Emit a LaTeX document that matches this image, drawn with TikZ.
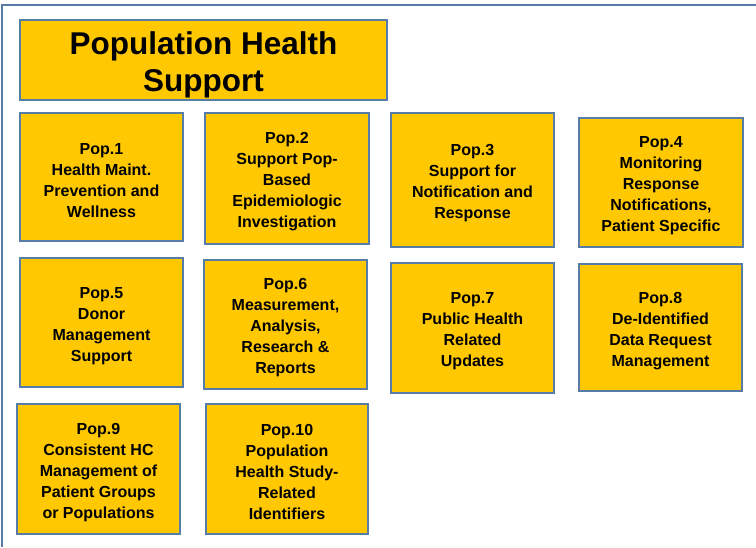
\documentclass[tikz,border=0pt]{standalone}
\usepackage{fontspec}
\setmainfont{Liberation Sans}
\usepackage{xcolor}
\definecolor{popgold}{RGB}{255,200,0}
\definecolor{popblue}{RGB}{88,124,168}
% strut on the first line, moves the text a little lower in its box
\newcommand{\popstrut}{\rule{0pt}{17.5pt}}
\newcommand{\titlestrut}{\rule{0pt}{33pt}}

\begin{document}
\begin{tikzpicture}[x=1pt,y=-1pt,
    popbox/.style={draw=popblue,line width=1.8pt,fill=popgold,inner sep=0pt,align=center,
        font=\fontsize{16}{21}\selectfont\bfseries},
    titlebox/.style={popbox,font=\fontsize{31.5}{37}\selectfont\bfseries}]
\useasboundingbox (0,0) rectangle (756,547);
\fill[white] (0,0) rectangle (756,547);
% outer frame, only top and left edges are in view
\draw[popblue,line width=2.5pt] (2,547) -- (2,5) -- (756,5);

\node[titlebox,minimum width=367pt,minimum height=80pt] (title) at (203.5,60) {\titlestrut Population Health\\Support};

% first row
\node[popbox,minimum width=163pt,minimum height=128pt] (pop1) at (101.5,177) {\popstrut Pop.1\\Health Maint.\\Prevention and\\Wellness};
\node[popbox,minimum width=164pt,minimum height=131pt] (pop2) at (287,178.5) {\popstrut Pop.2\\Support Pop-\\Based\\Epidemiologic\\Investigation};
\node[popbox,minimum width=163pt,minimum height=134pt] (pop3) at (472.5,180) {\popstrut Pop.3\\Support for\\Notification and\\Response};
\node[popbox,minimum width=164pt,minimum height=129pt] (pop4) at (661,182.5) {\popstrut Pop.4\\Monitoring\\Response\\Notifications,\\Patient Specific};

% second row
\node[popbox,minimum width=163pt,minimum height=129pt] (pop5) at (101.5,322.5) {\popstrut Pop.5\\Donor\\Management\\Support};
\node[popbox,minimum width=163pt,minimum height=129pt] (pop6) at (285.5,324.5) {\popstrut Pop.6\\Measurement,\\Analysis,\\Research \&\\Reports};
\node[popbox,minimum width=163pt,minimum height=130pt] (pop7) at (472.5,328) {\popstrut Pop.7\\Public Health\\Related\\Updates};
\node[popbox,minimum width=163pt,minimum height=127pt] (pop8) at (660.5,327.5) {\popstrut Pop.8\\De-Identified\\Data Request\\Management};

% third row
\node[popbox,minimum width=163pt,minimum height=130pt] (pop9) at (98.5,469) {\popstrut Pop.9\\Consistent HC\\Management of\\Patient Groups\\or Populations};
\node[popbox,minimum width=162pt,minimum height=130pt] (pop10) at (287,469) {\popstrut Pop.10\\Population\\Health Study-\\Related\\Identifiers};
\end{tikzpicture}
\end{document}
